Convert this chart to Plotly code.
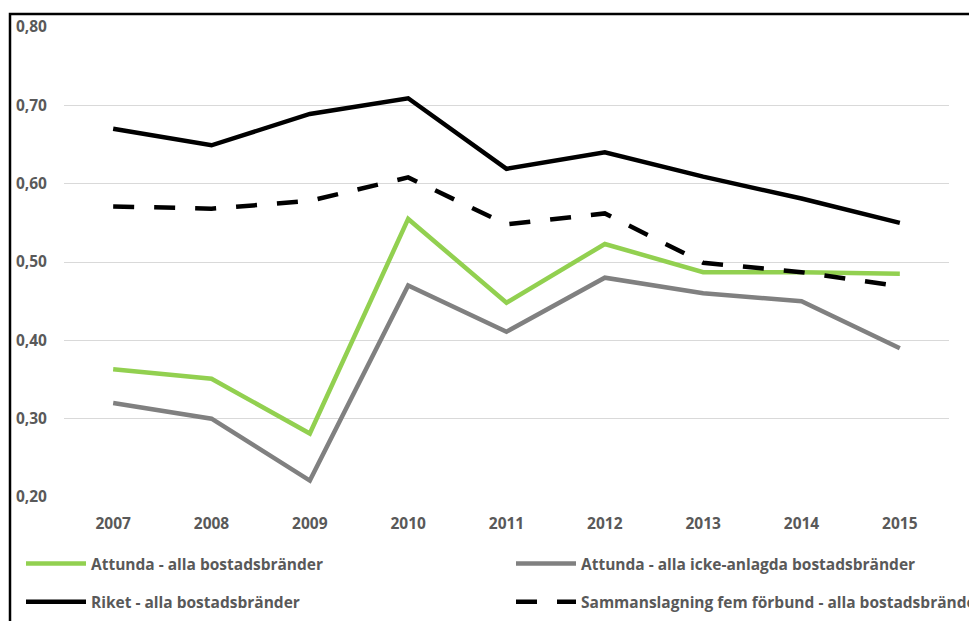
import plotly.graph_objects as go

years = ["2007", "2008", "2009", "2010", "2011", "2012", "2013", "2014", "2015"]
attunda_alla = [0.363, 0.351, 0.281, 0.555, 0.448, 0.523, 0.487, 0.487, 0.485]
attunda_icke = [0.320, 0.300, 0.221, 0.470, 0.411, 0.480, 0.460, 0.450, 0.390]
riket_alla = [0.670, 0.649, 0.689, 0.709, 0.619, 0.640, 0.609, 0.581, 0.550]
sammanslagning = [0.571, 0.568, 0.578, 0.608, 0.548, 0.562, 0.499, 0.487, 0.469]
y_ticks = [0.2, 0.3, 0.4, 0.5, 0.6, 0.7, 0.8]

FONT = "Open Sans"
FS = 15.5
TXT = "#595959"

fig = go.Figure()
fig.add_trace(go.Scatter(x=years, y=attunda_alla, mode="lines", name="Attunda - alla bostadsbränder",
                         line=dict(color="#92d050", width=4.5), legend="legend", legendgroup="a"))
fig.add_trace(go.Scatter(x=years, y=riket_alla, mode="lines", name="Riket - alla bostadsbränder",
                         line=dict(color="#000000", width=4.5), legend="legend", legendgroup="b"))
fig.add_trace(go.Scatter(x=years, y=attunda_icke, mode="lines", name="Attunda - alla icke-anlagda bostadsbränder",
                         line=dict(color="#808080", width=4.5), legend="legend2", legendgroup="c"))
fig.add_trace(go.Scatter(x=years, y=sammanslagning, mode="lines", name="Sammanslagning fem förbund - alla bostadsbränder",
                         line=dict(color="#000000", width=4.5, dash="21px,20px"), legend="legend2", legendgroup="d"))

# page has an 8px body margin; work in page pixels and convert
OFF = 8
W, H = 977 - OFF, 621 - OFF
PL, PT, PR, PB = 64, 27, 949, 497  # plot area in page px
L, T = PL - OFF, PT - OFF
R, B = W - (PR - OFF), H - (PB - OFF)
pw, ph = W - L - R, H - T - B

def px_x(x):
    return (x - OFF - L) / pw

def px_y(y):
    return 1 - (y - OFF - T) / ph

legend_common = dict(
    orientation="v", xanchor="left", yanchor="top",
    font=dict(family=FONT, size=FS, color=TXT, weight="bold"),
    bgcolor="rgba(0,0,0,0)", tracegroupgap=15, itemwidth=60,
)

fig.update_layout(
    width=W, height=H,
    margin=dict(l=L, r=R, t=T, b=B, autoexpand=False),
    paper_bgcolor="white", plot_bgcolor="white",
    separators=", ",
    font=dict(family=FONT, size=FS, color=TXT),
    showlegend=True,
    legend=dict(x=px_x(21), y=px_y(547), **legend_common),
    legend2=dict(x=px_x(511), y=px_y(547), **legend_common),
    xaxis=dict(
        type="category", range=[-0.5, 8.5], showgrid=False, showline=False, zeroline=False,
        ticks="outside", ticklen=12, tickcolor="rgba(0,0,0,0)",
        tickfont=dict(family=FONT, size=FS, color=TXT, weight="bold"),
    ),
    yaxis=dict(
        range=[0.2, 0.8], tickvals=y_ticks, tickformat=".2f", showgrid=True, gridcolor="#d9d9d9", gridwidth=1,
        zeroline=False, showline=False, ticks="outside", ticklen=13, tickcolor="rgba(0,0,0,0)",
        tickfont=dict(family=FONT, size=FS, color=TXT, weight="bold"),
    ),
    shapes=[dict(type="rect", xref="paper", yref="paper",
                 x0=px_x(10), x1=px_x(1100), y0=px_y(800), y1=px_y(14),
                 line=dict(color="black", width=2.5), fillcolor="rgba(0,0,0,0)", layer="above")],
)

fig.write_html("out.html")
